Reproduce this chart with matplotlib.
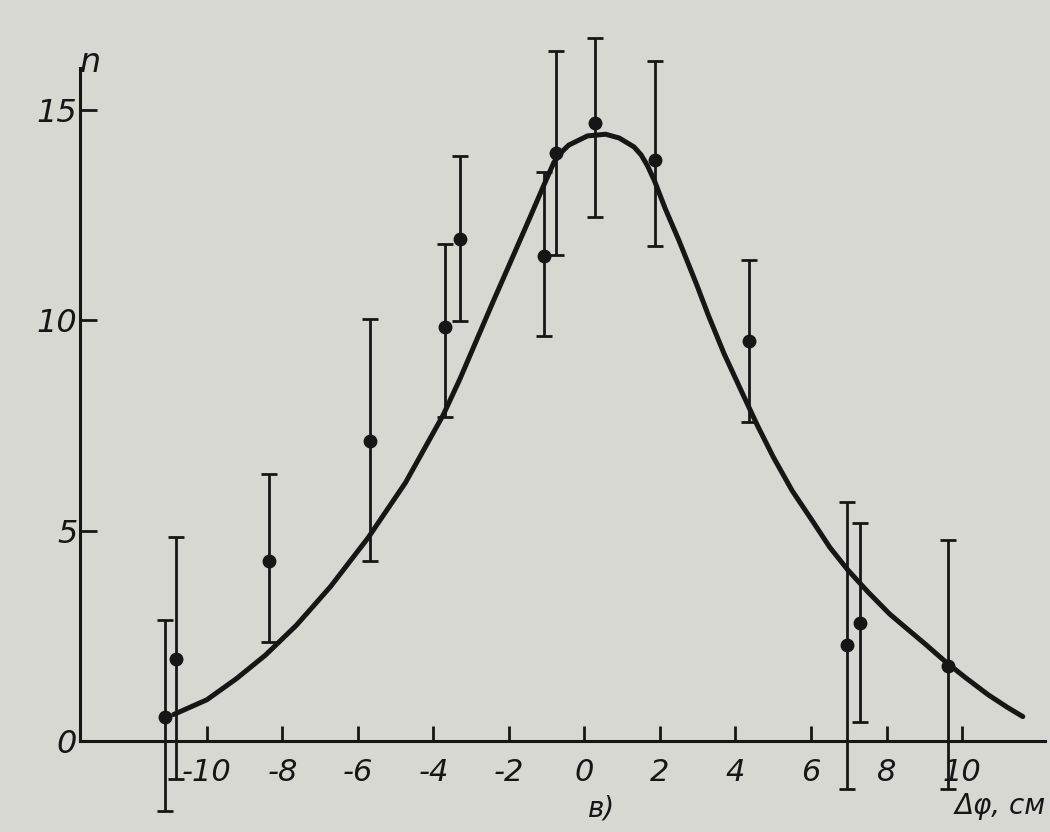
import matplotlib.pyplot as plt
import numpy as np

# measured points (dphi in cm) with lower / upper ends of the error bars
dphi = np.array([-11.1, -10.83, -8.35, -5.68, -3.69, -3.30, -1.08, -0.75, 0.29, 1.86, 4.37, 6.95, 7.31, 9.62])
n_obs = np.array([0.57, 1.96, 4.28, 7.12, 9.83, 11.92, 11.53, 13.98, 14.68, 13.80, 9.51, 2.27, 2.81, 1.78])
n_low = np.array([-1.66, -0.91, 2.35, 4.27, 7.69, 9.99, 9.63, 11.56, 12.46, 11.76, 7.58, -1.13, 0.44, -1.13])
n_high = np.array([2.88, 4.84, 6.34, 10.04, 11.81, 13.91, 13.53, 16.40, 16.70, 16.16, 11.42, 5.67, 5.19, 4.77])

# smooth curve
curve_x = np.array([-10.88, -10.0, -9.22, -8.45, -7.63, -6.725, -5.73, -4.74, -3.74, -3.30, -2.44, -2.0,
                    -1.44, -1.08, -0.81, -0.6, -0.42, 0.08, 0.56, 0.92, 1.31, 1.5, 1.67, 1.86, 2.14,
                    2.5, 2.97, 3.28, 3.7, 4.19, 4.58, 5.0, 5.5, 6.06, 6.5, 6.97, 7.5, 8.08, 8.5,
                    9.03, 9.58, 10.1, 10.69, 11.2, 11.61])
curve_y = np.array([0.63, 0.98, 1.48, 2.04, 2.75, 3.67, 4.83, 6.14, 7.75, 8.6, 10.4, 11.3,
                    12.45, 13.2, 13.75, 14.0, 14.16, 14.38, 14.42, 14.33, 14.12, 13.93, 13.67, 13.3, 12.65,
                    11.9, 10.85, 10.12, 9.2, 8.25, 7.5, 6.75, 5.95, 5.2, 4.6, 4.07, 3.55, 3.02, 2.7,
                    2.3, 1.87, 1.5, 1.1, 0.8, 0.58])

xticks = [-10, -8, -6, -4, -2, 0, 2, 4, 6, 8, 10]
yticks = [0, 5, 10, 15]

paper = '#d8d8d3'
ink = '#161616'
fnt = dict(family=['Liberation Sans Narrow', 'DejaVu Sans'], style='italic')

fig = plt.figure(figsize=(10.5, 8.32), dpi=100, facecolor=paper)
ax = fig.add_axes([0, 0, 1, 1], facecolor=paper)
ax.set_xlim(-15.48, 12.33)
ax.set_ylim(-2.163, 17.61)

ax.plot(curve_x, curve_y, color=ink, lw=3.6, solid_capstyle='round', solid_joinstyle='round', zorder=3)
ax.errorbar(dphi, n_obs, yerr=[n_obs - n_low, n_high - n_obs], fmt='o', color=ink,
            ms=9, elinewidth=2, capsize=6, capthick=2, zorder=4)

for s in ['top', 'right']:
    ax.spines[s].set_visible(False)
ax.spines['left'].set_position(('data', -13.36))
ax.spines['bottom'].set_position(('data', 0))
ax.spines['left'].set_bounds(0, 16.0)
ax.spines['bottom'].set_bounds(-13.36, 12.2)
for s in ['left', 'bottom']:
    ax.spines[s].set_linewidth(2.2)
    ax.spines[s].set_color(ink)

ax.set_xticks(xticks)
ax.set_xticklabels([str(v) for v in xticks], **fnt, fontsize=22, color=ink)
ax.set_yticks(yticks)
ax.set_yticklabels([str(v) for v in yticks], **fnt, fontsize=23, color=ink)
ax.tick_params(axis='x', direction='in', length=11, width=2, color=ink, pad=12)
ax.tick_params(axis='y', direction='in', length=12, width=2, color=ink, pad=2)

fig.text(90 / 1050, 1 - 62 / 832, 'n', **fnt, fontsize=24, color=ink, ha='center', va='center')
fig.text(1046 / 1050, 1 - 806 / 832, 'Δφ, см', **fnt, fontsize=20, color=ink, ha='right', va='center')
fig.text(602 / 1050, 1 - 808 / 832, 'в)', **fnt, fontsize=20, color=ink, ha='center', va='center')

fig.savefig('out.png', dpi=100, facecolor=paper)
